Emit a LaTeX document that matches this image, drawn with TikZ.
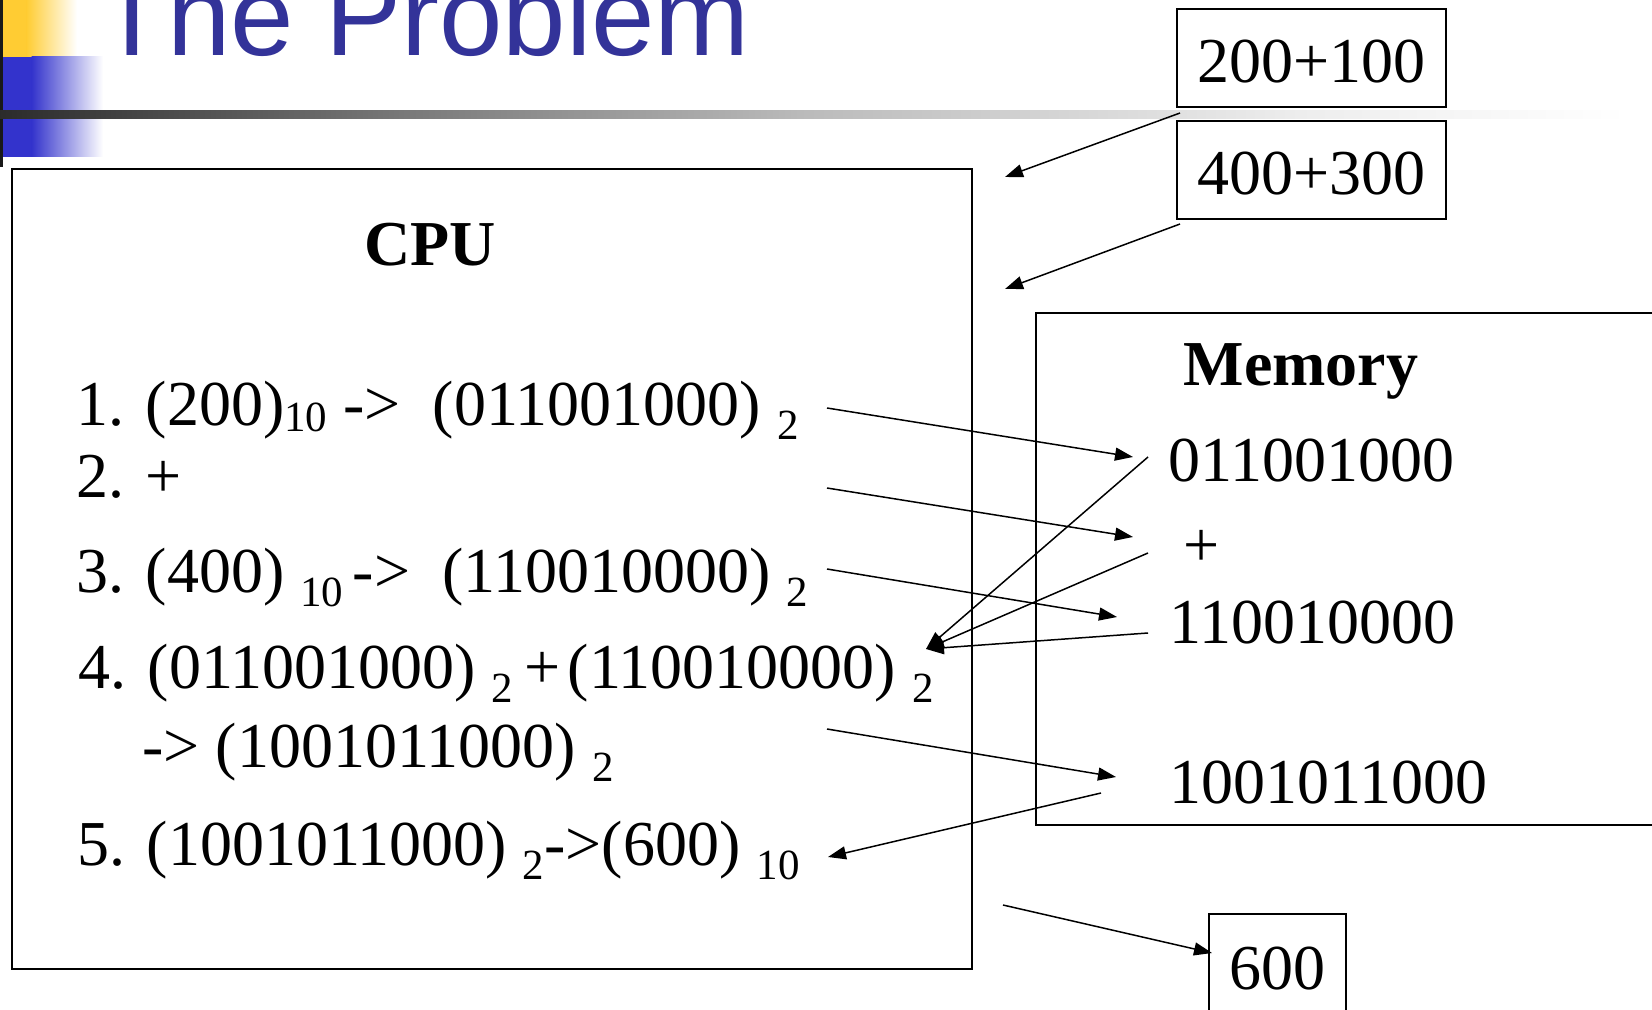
\documentclass[tikz,border=0pt]{standalone}
\usepackage{fontspec}
\setmainfont{Liberation Serif}
\newfontfamily\titlefont{Liberation Sans}
\usetikzlibrary{arrows.meta}

\definecolor{titleblue}{RGB}{51,51,153}
\definecolor{barblue}{RGB}{51,51,204}
\definecolor{baryellow}{RGB}{255,204,51}

% lowered small index, e.g. the base of a number
\newcommand{\lo}[2][0.22em]{\raisebox{-#1}{\fontsize{21.5pt}{22pt}\selectfont #2}}

\begin{document}
\begin{tikzpicture}[x=0.5pt, y=-0.5pt,
    box/.style={draw, line width=1pt, inner sep=0pt},
    bnode/.style={box, font=\fontsize{32pt}{36pt}\selectfont, text height=25pt, minimum width=134.5pt, minimum height=49pt},
    lnode/.style={anchor=base west, inner sep=0pt, font=\fontsize{32pt}{36pt}\selectfont},
    hnode/.style={anchor=base, inner sep=0pt, font=\fontsize{32pt}{36pt}\selectfont\bfseries},
    flow/.style={-{Triangle[length=9pt,width=6.5pt]}, line width=0.75pt}]
    \useasboundingbox (0,0) rectangle (1652,1010);
    \clip (0,0) rectangle (1652,1010);

    % slide header
    \fill[black!90] (0,0) rectangle (3,167);
    \fill[baryellow] (3,0) rectangle (27,57);
    \shade[left color=baryellow, right color=white] (26.5,0) rectangle (77,57);
    \foreach \top/\bot in {57/111, 119/157} {
      \fill[barblue] (3,\top) rectangle (32,\bot);
      \shade[left color=barblue, right color=white] (31.5,\top) rectangle (103,\bot);
    }
    \shade[left color=black!83, right color=black!53] (0,111) rectangle (400.5,119);
    \shade[left color=black!53, right color=black!27] (400,111) rectangle (800.5,119);
    \shade[left color=black!27, right color=black!7] (800,111) rectangle (1300.5,119);
    \shade[left color=black!7, right color=white] (1300,111) rectangle (1628,119);
    \node[anchor=base west, inner sep=0pt, text=titleblue, font=\titlefont\fontsize{57pt}{60pt}\selectfont] (title) at (97,56) {The Problem};

    \node[box, minimum width=480pt, minimum height=400pt] (cpu) at (492,569) {};
    \node[box, minimum width=342pt, minimum height=256pt] (mem) at (1378,569) {};
    \node[hnode] (cpulbl) at (430,266) {CPU};
    \node[hnode] (memlbl) at (1301,385) {Memory};

    \node[lnode] (s1) at (76,425) {1. (200)\lo[0.1em]{10} ->\ \ (011001000) \lo{2}};
    \node[lnode] (s2) at (76,497) {2. +};
    \node[lnode] (s3) at (76,592) {3. (400) \lo{10}\hspace{0.15em}->\ \ (110010000) \lo{2}};
    \node[lnode] (s4) at (78,688) {4. (011001000) \lo{2\ }+\hspace{0.12em}(110010000) \lo{2}};
    \node[lnode] (s4b) at (142,767) {-> (1001011000) \lo{2}};
    \node[lnode] (s5) at (77,865) {5. (1001011000) \lo{2}->(600) \lo{10}};

    \node[lnode] (m1) at (1168,481) {011001000};
    \node[lnode] (m2) at (1183,566) {+};
    \node[lnode] (m3) at (1169,643) {110010000};
    \node[lnode] (m4) at (1169,803) {1001011000};

    \node[bnode] (q1) at (1311.5,58) {200+100};
    \node[bnode] (q2) at (1311.5,170) {400+300};
    \node[bnode, minimum width=68.5pt, minimum height=50.5pt] (res) at (1277.5,964.5) {600};

    % arrow ends
    \coordinate (q1o) at (1180,113);
    \coordinate (q1i) at (1005,177);
    \coordinate (q2o) at (1180,224);
    \coordinate (q2i) at (1005,289);
    \coordinate (s1o) at (827,408);
    \coordinate (s2o) at (827,488);
    \coordinate (s3o) at (827,569);
    \coordinate (s4i) at (926,649);
    \coordinate (s4o) at (827,729);
    \coordinate (s5i) at (828,857);
    \coordinate (m1i) at (1133,457);
    \coordinate (m1o) at (1148,457);
    \coordinate (m2i) at (1133,537);
    \coordinate (m2o) at (1148,553);
    \coordinate (m3i) at (1117,617);
    \coordinate (m3o) at (1148,633);
    \coordinate (m4i) at (1116,777);
    \coordinate (m4o) at (1101,793);
    \coordinate (cpuo) at (1003,905);
    \coordinate (resi) at (1212,953);

    \draw[flow] (q1o) to (q1i);
    \draw[flow] (q2o) to (q2i);
    \draw[flow] (s1o) to (m1i);
    \draw[flow] (s2o) to (m2i);
    \draw[flow] (s3o) to (m3i);
    \draw[flow] (m1o) to (s4i);
    \draw[flow] (m2o) to (s4i);
    \draw[flow] (m3o) to (s4i);
    \draw[flow] (s4o) to (m4i);
    \draw[flow] (m4o) to (s5i);
    \draw[flow] (cpuo) to (resi);
\end{tikzpicture}
\end{document}
